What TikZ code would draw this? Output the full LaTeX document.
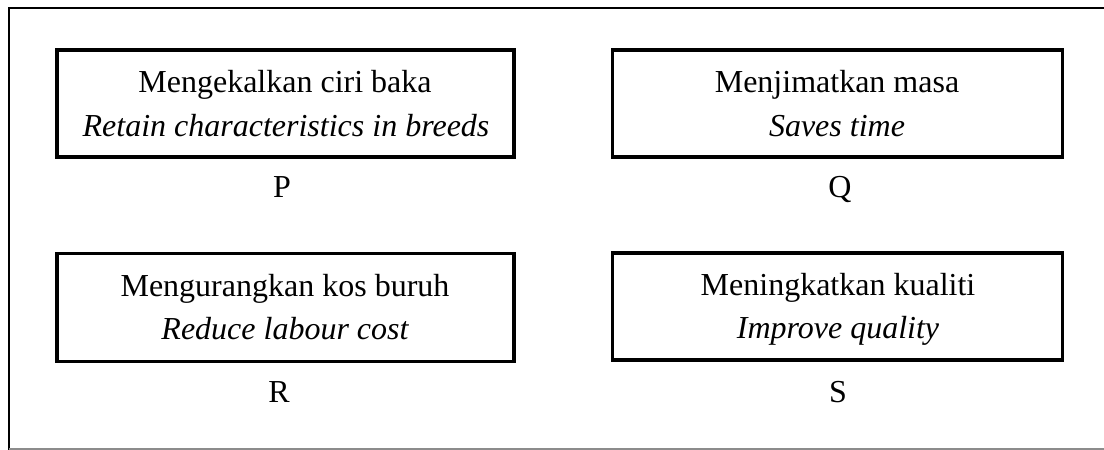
\documentclass[tikz,border=0pt]{standalone}
\usepackage{fontspec}
\setmainfont{Liberation Serif}
\begin{document}
\begin{tikzpicture}[x=0.75pt,y=-0.75pt,
  box/.style={draw, line width=2.4pt, inner sep=0pt, outer sep=0pt,
              minimum width=337pt, minimum height=80.25pt},
  txt/.style={anchor=base, inner sep=0pt, font=\fontsize{24}{28}\selectfont},
  itx/.style={txt, font=\fontsize{24}{28}\selectfont\itshape},
  lbl/.style={anchor=base, inner sep=0pt, font=\fontsize{24}{28}\selectfont}]
\useasboundingbox (0,0) rectangle (1104,450);
\fill[white] (0,0) rectangle (1104,450);
% outer frame
\draw[line width=2.2pt] (9,450) -- (9,8) -- (1104,8);
\draw[black!45, line width=1.5pt] (9,449) -- (1104,449);
% boxes
\node[box, minimum width=342.75pt] (P) at (285.5,103.5) {};
\node[box] (Q) at (837.5,103.5) {};
\node[box, minimum width=342.75pt, minimum height=81pt] (R) at (285.5,307.5) {};
\node[box] (S) at (837.5,306.5) {};
% texts
\node[txt] (P1) at (285,92) {Mengekalkan ciri baka};
\node[itx] (P2) at (286,136) {Retain characteristics in breeds};
\node[txt] (Q1) at (837,92) {Menjimatkan masa};
\node[itx] (Q2) at (837,136) {Saves time};
\node[txt] (R1) at (285,296) {Mengurangkan kos buruh};
\node[itx] (R2) at (285,339) {Reduce labour cost};
\node[txt] (S1) at (838,295) {Meningkatkan kualiti};
\node[itx] (S2) at (838,338) {Improve quality};
% labels
\node[lbl] (Pl) at (282,197) {P};
\node[lbl] (Ql) at (840,197) {Q};
\node[lbl] (Rl) at (279,402) {R};
\node[lbl] (Sl) at (838,402) {S};
\end{tikzpicture}
\end{document}
